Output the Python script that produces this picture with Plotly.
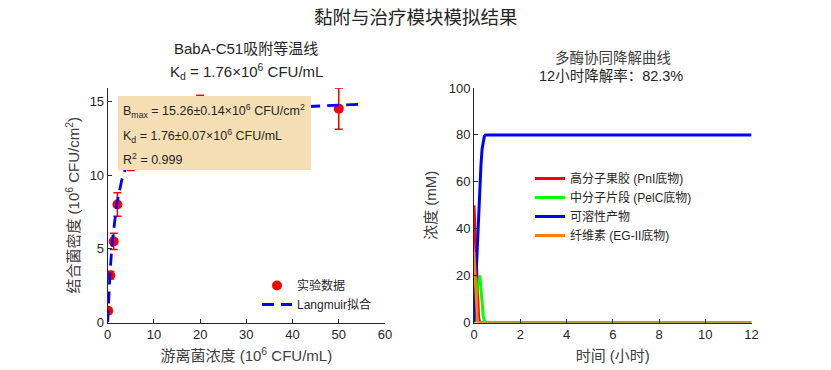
import plotly.graph_objects as go

W, H = 831, 370

# ---- data: adsorption isotherm ----
free_conc = [0.1, 0.55, 1.3, 2.1, 5.0, 20.0, 50.0]
bound_density = [0.8, 3.2, 5.5, 8.0, 11.2, 14.0, 14.5]
bound_err = [0.15, 0.25, 0.55, 0.8, 0.9, 1.4, 1.4]

fit_x = [0, 0.25, 0.5, 1, 1.5, 2, 3, 4, 5, 7, 10, 15, 20, 30, 40, 50, 55]
fit_y = [0, 1.9, 3.4, 5.5, 7.0, 8.1, 9.6, 10.6, 11.3, 12.2, 13.0, 13.7, 14.0, 14.4, 14.6, 14.7, 14.8]

# ---- data: multi-enzyme degradation ----
time_h = [0, 0.05, 0.1, 0.15, 0.2, 0.25, 0.3, 0.35, 0.4, 0.45, 0.5, 0.6, 12]
pectin_hmw = [50, 38, 25, 12, 2, 0, 0, 0, 0, 0, 0, 0, 0]
fragment_mid = [0, 4, 10, 16, 19, 20, 14, 8, 3, 0.5, 0, 0, 0]
soluble_prod = [0, 12, 25, 37, 48, 58, 67, 74, 78, 79.5, 80, 80, 80]
cellulose = [30, 18, 7, 0.5, 0, 0, 0, 0, 0, 0, 0, 0, 0]

FONT = "Liberation Sans, Arial, Noto Sans CJK SC, sans-serif"
TXT = "#262626"

def px(x):
    return x / W

def py(y):
    return 1 - y / H

fig = go.Figure()

# left panel
fig.add_trace(go.Scatter(
    x=free_conc, y=bound_density, mode="markers", name="实验数据",
    marker=dict(color="#FF0000", size=10),
    error_y=dict(type="data", array=bound_err, color="#FF0000", thickness=1.5, width=4),
    xaxis="x", yaxis="y", legend="legend"))
fig.add_trace(go.Scatter(
    x=fit_x, y=fit_y, mode="lines", name="Langmuir拟合",
    line=dict(color="#0000FF", width=2.8, dash="12px,7px"),
    xaxis="x", yaxis="y", legend="legend"))

# right panel
for name, vals, col in [
    ("高分子果胶 (PnI底物)", pectin_hmw, "#FF0000"),
    ("中分子片段 (PelC底物)", fragment_mid, "#00FF00"),
    ("可溶性产物", soluble_prod, "#0000FF"),
    ("纤维素 (EG-II底物)", cellulose, "#FF8000"),
]:
    fig.add_trace(go.Scatter(
        x=time_h, y=vals, mode="lines", name=name,
        line=dict(color=col, width=3),
        xaxis="x2", yaxis="y2", legend="legend2"))

axis_common = dict(
    showline=True, linecolor=TXT, linewidth=1, ticks="inside", ticklen=4,
    tickcolor=TXT, tickfont=dict(size=13, color=TXT, family=FONT),
    showgrid=False, zeroline=False, automargin=False, mirror=False,
)

ydom = [py(322.5), py(88)]
AX_TITLE = dict(size=15, color="#404040")

fig.update_layout(
    width=W, height=H,
    margin=dict(l=0, r=0, t=0, b=0),
    paper_bgcolor="white", plot_bgcolor="white",
    font=dict(family=FONT, color=TXT, size=12),
    xaxis=dict(domain=[px(107.7), px(385)], range=[0, 60], tickvals=[0, 10, 20, 30, 40, 50, 60],
               anchor="y",
               title=dict(text="游离菌浓度 (10<sup>6</sup> CFU/mL)", font=AX_TITLE, standoff=9),
               **axis_common),
    yaxis=dict(domain=ydom, range=[0, 15.9], tickvals=[0, 5, 10, 15], anchor="x",
               title=dict(text="结合菌密度 (10<sup>6</sup> CFU/cm<sup>2</sup>)", font=AX_TITLE, standoff=6),
               **axis_common),
    xaxis2=dict(domain=[px(474), px(751.5)], range=[0, 12], tickvals=[0, 2, 4, 6, 8, 10, 12],
                anchor="y2",
                title=dict(text="时间 (小时)", font=AX_TITLE, standoff=9),
                **axis_common),
    yaxis2=dict(domain=ydom, range=[0, 100], tickvals=[0, 20, 40, 60, 80, 100], anchor="x2",
                title=dict(text="浓度 (mM)", font=AX_TITLE, standoff=8),
                **axis_common),
    legend=dict(x=px(257), y=py(271), xanchor="left", yanchor="top",
                bgcolor="rgba(255,255,255,0)", font=dict(size=12, color=TXT),
                tracegroupgap=0, itemwidth=30),
    legend2=dict(x=px(530), y=py(164), xanchor="left", yanchor="top",
                 bgcolor="rgba(255,255,255,0)", font=dict(size=12, color=TXT),
                 tracegroupgap=0, itemwidth=30),
    showlegend=True,
)

# wheat textbox over left panel
fig.add_shape(type="rect", xref="paper", yref="paper",
              x0=px(118), x1=px(311), y0=py(170), y1=py(96),
              fillcolor="#F5DEB3", line=dict(width=0), layer="above")

box_lines = [
    ("B<sub>max</sub> = 15.26±0.14×10<sup>6</sup> CFU/cm<sup>2</sup>", 111),
    ("K<sub>d</sub> = 1.76±0.07×10<sup>6</sup> CFU/mL", 136),
    ("R<sup>2</sup> = 0.999", 159),
]
for t, yy in box_lines:
    fig.add_annotation(text=t, xref="paper", yref="paper", x=px(121), y=py(yy),
                       xanchor="left", yanchor="middle", showarrow=False,
                       font=dict(size=12.5, color=TXT))

# titles
fig.add_annotation(text="黏附与治疗模块模拟结果", xref="paper", yref="paper",
                   x=px(416), y=py(18), xanchor="center", yanchor="middle", showarrow=False,
                   font=dict(size=18.5, color=TXT))
fig.add_annotation(text="BabA-C51吸附等温线", xref="paper", yref="paper",
                   x=px(246), y=py(48), xanchor="center", yanchor="middle", showarrow=False,
                   font=dict(size=15, color=TXT))
fig.add_annotation(text="K<sub>d</sub> = 1.76×10<sup>6</sup> CFU/mL", xref="paper", yref="paper",
                   x=px(246), y=py(71), xanchor="center", yanchor="middle", showarrow=False,
                   font=dict(size=15, color=TXT))
fig.add_annotation(text="多酶协同降解曲线", xref="paper", yref="paper",
                   x=px(613), y=py(58), xanchor="center", yanchor="middle", showarrow=False,
                   font=dict(size=14.5, color="#404040"))
fig.add_annotation(text="12小时降解率：82.3%", xref="paper", yref="paper",
                   x=px(611), y=py(76), xanchor="center", yanchor="middle", showarrow=False,
                   font=dict(size=14.5, color=TXT))

fig.write_html("out.html", config={"displayModeBar": False},
               post_script="document.body.style.margin='0px';")
